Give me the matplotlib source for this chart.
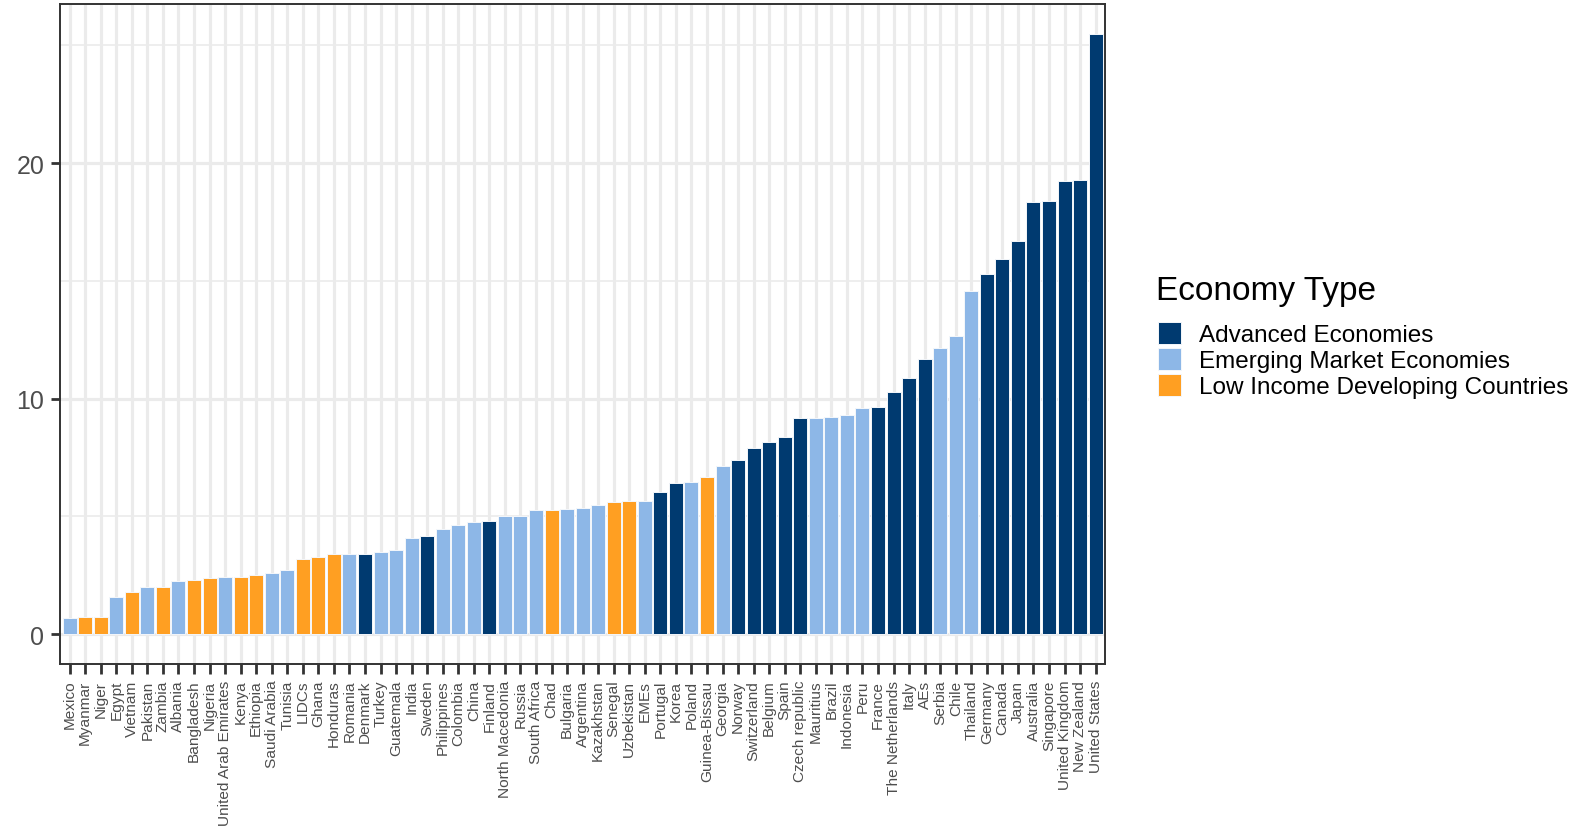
import matplotlib
matplotlib.use("Agg")
import matplotlib.pyplot as plt
from matplotlib.patches import Rectangle
import numpy as np

plt.rcParams['font.family'] = ['Liberation Sans', 'DejaVu Sans']

countries = ["Mexico", "Myanmar", "Niger", "Egypt", "Vietnam", "Pakistan", "Zambia", "Albania",
             "Bangladesh", "Nigeria", "United Arab Emirates", "Kenya", "Ethiopia", "Saudi Arabia",
             "Tunisia", "LIDCs", "Ghana", "Honduras", "Romania", "Denmark", "Turkey", "Guatemala",
             "India", "Sweden", "Philippines", "Colombia", "China", "Finland", "North Macedonia",
             "Russia", "South Africa", "Chad", "Bulgaria", "Argentina", "Kazakhstan", "Senegal",
             "Uzbekistan", "EMEs", "Portugal", "Korea", "Poland", "Guinea-Bissau", "Georgia",
             "Norway", "Switzerland", "Belgium", "Spain", "Czech republic", "Mauritius", "Brazil",
             "Indonesia", "Peru", "France", "The Netherlands", "Italy", "AEs", "Serbia", "Chile",
             "Thailand", "Germany", "Canada", "Japan", "Australia", "Singapore", "United Kingdom",
             "New Zealand", "United States"]

values = [0.66, 0.73, 0.74, 1.56, 1.77, 2.00, 2.00, 2.24,
          2.30, 2.37, 2.43, 2.44, 2.50, 2.58,
          2.71, 3.19, 3.25, 3.40, 3.40, 3.40, 3.49, 3.58,
          4.09, 4.15, 4.45, 4.62, 4.76, 4.79, 5.00,
          5.00, 5.27, 5.27, 5.29, 5.35, 5.49, 5.59,
          5.63, 5.66, 6.03, 6.40, 6.46, 6.68, 7.13,
          7.39, 7.91, 8.16, 8.38, 9.18, 9.18, 9.22,
          9.31, 9.60, 9.64, 10.27, 10.88, 11.67, 12.14, 12.66,
          14.57, 15.30, 15.92, 16.71, 18.35, 18.39, 19.24,
          19.27, 25.47]

# A = Advanced, E = Emerging, L = Low income
groups = ["E", "L", "L", "E", "L", "E", "L", "E",
          "L", "L", "E", "L", "L", "E",
          "E", "L", "L", "L", "E", "A", "E", "E",
          "E", "A", "E", "E", "E", "A", "E",
          "E", "E", "L", "E", "E", "E", "L",
          "L", "E", "A", "A", "E", "L", "E",
          "A", "A", "A", "A", "A", "E", "E",
          "E", "E", "A", "A", "A", "A", "E", "E",
          "E", "A", "A", "A", "A", "A", "A",
          "A", "A"]

group_order = ["A", "E", "L"]
group_names = {"A": "Advanced Economies", "E": "Emerging Market Economies",
               "L": "Low Income Developing Countries"}
group_colors = {"A": "#003A70", "E": "#8DB7E7", "L": "#FF9F22"}

W, H = 1578, 829
fig = plt.figure(figsize=(W / 100, H / 100), dpi=100)
L_, R_, T_, B_ = 60.3, 1105, 5.3, 665
ax = fig.add_axes([L_ / W, 1 - B_ / H, (R_ - L_) / W, (B_ - T_) / H])

x = np.arange(1, len(countries) + 1)
ax.bar(x, values, width=0.9, color=[group_colors[g] for g in groups],
       edgecolor="#F4F7FB", linewidth=0.7, zorder=3)

ymax = max(values)
ax.set_ylim(-0.05 * ymax, ymax * 1.05)
ax.set_xlim(0.4, len(countries) + 0.6)

ax.set_yticks([0, 10, 20])
ax.set_yticks([5, 15, 25], minor=True)
ax.set_xticks(x)
ax.set_xticklabels(countries, rotation=90, fontsize=11.1, color="#4D4D4D")
ax.tick_params(axis='y', labelsize=18, colors="#333333", labelcolor="#4D4D4D",
               length=6.5, width=2.0, pad=5)
ax.tick_params(axis='y', which='minor', length=0)
ax.tick_params(axis='x', colors="#333333", labelcolor="#4D4D4D", length=7, width=2.0, pad=4.3)

ax.grid(True, which='major', axis='both', color="#EBEBEB", linewidth=2.3, zorder=0)
ax.grid(True, which='minor', axis='y', color="#EBEBEB", linewidth=1.2, zorder=0)
ax.set_axisbelow(True)
for s in ax.spines.values():
    s.set_color("#333333")
    s.set_linewidth(1.4)

# Legend
fig.text(1156 / W, 1 - 300 / H, "Economy Type", fontsize=24, color="black",
         va="baseline", ha="left")
key_top = [323.3, 349.3, 375.3]
for g, ky in zip(group_order, key_top):
    fig.patches.append(Rectangle((1158 / W, 1 - (ky + 21.7) / H), 22.7 / W, 21.7 / H,
                                 transform=fig.transFigure, facecolor=group_colors[g],
                                 edgecolor="#F4F7FB", linewidth=0.7))
    fig.text(1199 / W, 1 - (ky + 19) / H, group_names[g], fontsize=17.5, color="black",
             va="baseline", ha="left")

fig.savefig("out.png", dpi=100, facecolor="white")
